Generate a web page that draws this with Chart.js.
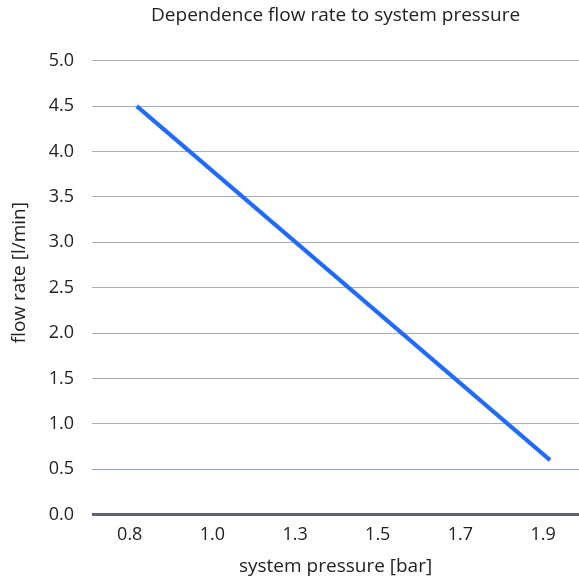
<!DOCTYPE html>
<html>
<head>
<meta charset="utf-8">
<script src="https://cdn.jsdelivr.net/npm/chart.js@4"></script>
<style>
  html, body { margin: 0; padding: 0; background: #fff; }
  #wrap { width: 579px; height: 578px; }
</style>
</head>
<body>
<div id="wrap"><canvas id="flowChart"></canvas></div>
<script>
// x categories (system pressure, bar) as printed on the axis
const pressureLabels = ['0.8', '1.0', '1.3', '1.5', '1.7', '1.9'];
// measured points: pressure -> flow rate [l/min]
const pressurePoints = ['0.8', '1.9'];
const flowRates = [4.5, 0.6];
// y ticks
const flowTicks = [0, 0.5, 1, 1.5, 2, 2.5, 3, 3.5, 4, 4.5, 5];

const textColor = '#222';
const fontFamily = '"Open Sans", sans-serif';

const lineData = pressurePoints.map((p, i) => ({
  x: pressureLabels.indexOf(p),
  y: flowRates[i]
}));

function gridColor(ctx) {
  const v = ctx.tick && ctx.tick.value;
  if (v === 0) return '#5b6470';
  if (v === 0.5) return '#8fa0c4';
  return '#a9adb5';
}

const ctx = document.getElementById('flowChart').getContext('2d');
new Chart(ctx, {
  type: 'line',
  data: {
    datasets: [{
      data: lineData,
      borderColor: '#1f6bff',
      borderWidth: 4,
      pointRadius: 0,
      fill: false,
      tension: 0
    }]
  },
  options: {
    responsive: true,
    maintainAspectRatio: false,
    animation: false,
    layout: { padding: 0 },
    plugins: {
      legend: { display: false },
      tooltip: { enabled: false },
      title: {
        display: true,
        fullSize: false,
        text: 'Dependence flow rate to system pressure',
        color: textColor,
        font: { family: fontFamily, size: 19, weight: 'normal' },
        padding: { top: 4, bottom: 4 }
      }
    },
    scales: {
      x: {
        type: 'linear',
        min: -0.54,
        max: 5.35,
        afterBuildTicks: (axis) => {
          axis.ticks = pressureLabels.map((l, i) => ({ value: i }));
        },
        ticks: {
          callback: (value) => pressureLabels[value],
          color: textColor,
          font: { family: fontFamily, size: 18 },
          padding: 9.5,
          labelOffset: -7,
          maxRotation: 0,
          autoSkip: false
        },
        grid: { display: false, drawTicks: false },
        border: { display: false },
        title: {
          display: true,
          text: 'system pressure [bar]',
          color: textColor,
          font: { family: fontFamily, size: 19 },
          padding: { top: 0, bottom: 0 }
        }
      },
      y: {
        min: 0,
        max: 5.33,
        afterBuildTicks: (axis) => {
          axis.ticks = flowTicks.map(v => ({ value: v }));
        },
        ticks: {
          callback: (value) => value.toFixed(1),
          color: textColor,
          font: { family: fontFamily, size: 18 },
          padding: 18
        },
        grid: {
          drawTicks: false,
          color: gridColor,
          lineWidth: (c) => (c.tick && c.tick.value === 0 ? 3 : 1)
        },
        border: { display: false },
        title: {
          display: true,
          text: 'flow rate [l/min]',
          color: textColor,
          font: { family: fontFamily, size: 19 },
          padding: { top: 8, bottom: 0 }
        }
      }
    }
  }
});
</script>
</body>
</html>
